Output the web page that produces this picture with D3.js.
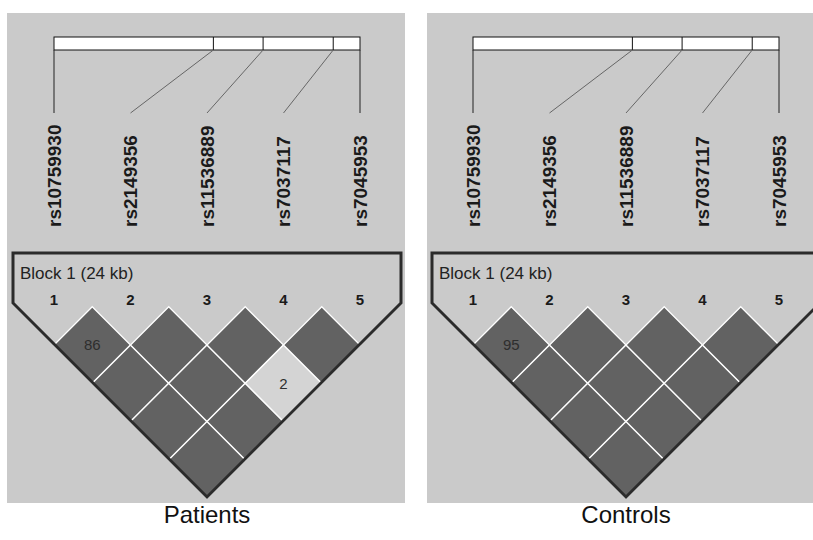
<!DOCTYPE html>
<html>
<head>
<meta charset="utf-8">
<script src="https://cdn.jsdelivr.net/npm/d3@7"></script>
<style>
  body { margin: 0; background: #fff; }
  svg { display: block; }
</style>
</head>
<body>
<svg></svg>
<script>
const width = 813;
const height = 540;

// SNPs of the block and their physical position (kb from first SNP)
const snps = ["rs10759930", "rs2149356", "rs11536889", "rs7037117", "rs7045953"];
const positionsKb = [0, 12.5, 16.4, 21.9, 24.0];
const blockLabel = "Block 1 (24 kb)";

// pairwise D' (x100): [snp i, snp j, value]
const patientsLD = [
    [1, 2, 86], [1, 3, 100], [1, 4, 100], [1, 5, 100],
    [2, 3, 100], [2, 4, 100], [2, 5, 100],
    [3, 4, 100], [3, 5, 2],
    [4, 5, 100]
];
const controlsLD = [
    [1, 2, 95], [1, 3, 100], [1, 4, 100], [1, 5, 100],
    [2, 3, 100], [2, 4, 100], [2, 5, 100],
    [3, 4, 100], [3, 5, 100],
    [4, 5, 100]
];

const panels = [
    { title: "Patients", ld: patientsLD, offset: 0 },
    { title: "Controls", ld: controlsLD, offset: 419 }
];

const svg = d3.select("svg")
    .attr("width", width)
    .attr("height", height);

// index -> x of marker/label, kb -> x on the physical bar
const x = d3.scaleLinear().domain([1, snps.length]).range([54, 360]);
const xKb = d3.scaleLinear().domain([0, 24]).range([54, 360]);
const half = (x(2) - x(1)) / 2;
const rowTop = 306.75;   // top vertex of first-row diamonds

const fill = d3.scaleThreshold().domain([50]).range(["#d4d4d4", "#626262"]);

panels.forEach(p => {
    const g = svg.append("g").attr("transform", `translate(${p.offset},0)`);

    g.append("rect")
        .attr("x", p.offset ? 8 : 7).attr("y", 13)
        .attr("width", 398).attr("height", 490)
        .attr("fill", "#cacaca");

    // physical map bar
    g.append("rect")
        .attr("x", xKb(0)).attr("y", 37)
        .attr("width", xKb(24) - xKb(0)).attr("height", 13)
        .attr("fill", "#fff").attr("stroke", "#111").attr("stroke-width", 1);

    g.selectAll(".div")
        .data(positionsKb.slice(1, -1))
        .enter().append("line")
        .attr("x1", d => xKb(d)).attr("x2", d => xKb(d))
        .attr("y1", 37).attr("y2", 50)
        .attr("stroke", "#111");

    g.selectAll(".conn")
        .data(positionsKb)
        .enter().append("line")
        .attr("x1", d => xKb(d)).attr("y1", 50)
        .attr("x2", (d, i) => x(i + 1)).attr("y2", 113)
        .attr("stroke", (d, i) => (i === 0 || i === snps.length - 1) ? "#222" : "#666")
        .attr("stroke-width", 1);

    g.selectAll(".snp")
        .data(snps)
        .enter().append("text")
        .attr("transform", (d, i) => `translate(${x(i + 1)},227) rotate(-90)`)
        .attr("dy", "0.36em")
        .attr("font-family", "Arial, Liberation Sans, sans-serif")
        .attr("font-size", 19)
        .attr("font-weight", "bold")
        .attr("fill", "#1a1a1a")
        .text(d => d);

    // LD diamonds
    const cells = g.selectAll(".cell")
        .data(p.ld)
        .enter().append("g");

    cells.append("path")
        .attr("d", d => {
            const cx = (x(d[0]) + x(d[1])) / 2;
            const cy = rowTop + (d[1] - d[0]) * half;
            return `M${cx},${cy - half}L${cx + half},${cy}L${cx},${cy + half}L${cx - half},${cy}Z`;
        })
        .attr("fill", d => fill(d[2]))
        .attr("stroke", "#fff")
        .attr("stroke-width", 1.3);

    cells.filter(d => d[2] < 100).append("text")
        .attr("x", d => (x(d[0]) + x(d[1])) / 2)
        .attr("y", d => rowTop + (d[1] - d[0]) * half)
        .attr("dy", "0.36em")
        .attr("text-anchor", "middle")
        .attr("font-family", "Arial, Liberation Sans, sans-serif")
        .attr("font-size", 15)
        .attr("fill", "#2e2e2e")
        .text(d => d[2]);

    // block outline
    const apexX = (x(1) + x(snps.length)) / 2;
    const apexY = rowTop + (snps.length - 1) * half + half - 1;
    const wing = apexY - 303;
    const outline = [
        [apexX - wing, 253], [apexX + wing, 253], [apexX + wing, 303],
        [apexX, apexY], [apexX - wing, 303]
    ];
    g.append("path")
        .attr("d", d3.line()(outline) + "Z")
        .attr("fill", "none")
        .attr("stroke", "#2b2b2b")
        .attr("stroke-width", 3)
        .attr("stroke-linejoin", "miter");

    g.append("text")
        .attr("x", apexX - wing + 7).attr("y", 279)
        .attr("font-family", "Arial, Liberation Sans, sans-serif")
        .attr("font-size", 17)
        .attr("fill", "#222")
        .text(blockLabel);

    g.selectAll(".num")
        .data(snps)
        .enter().append("text")
        .attr("x", (d, i) => x(i + 1))
        .attr("y", 300)
        .attr("dy", "0.36em")
        .attr("text-anchor", "middle")
        .attr("font-family", "Arial, Liberation Sans, sans-serif")
        .attr("font-size", 15)
        .attr("font-weight", "bold")
        .attr("fill", "#1a1a1a")
        .text((d, i) => i + 1);

    g.append("text")
        .attr("x", apexX).attr("y", 523)
        .attr("text-anchor", "middle")
        .attr("font-family", "Arial, Liberation Sans, sans-serif")
        .attr("font-size", 24)
        .attr("fill", "#111")
        .text(p.title);
});
</script>
</body>
</html>
